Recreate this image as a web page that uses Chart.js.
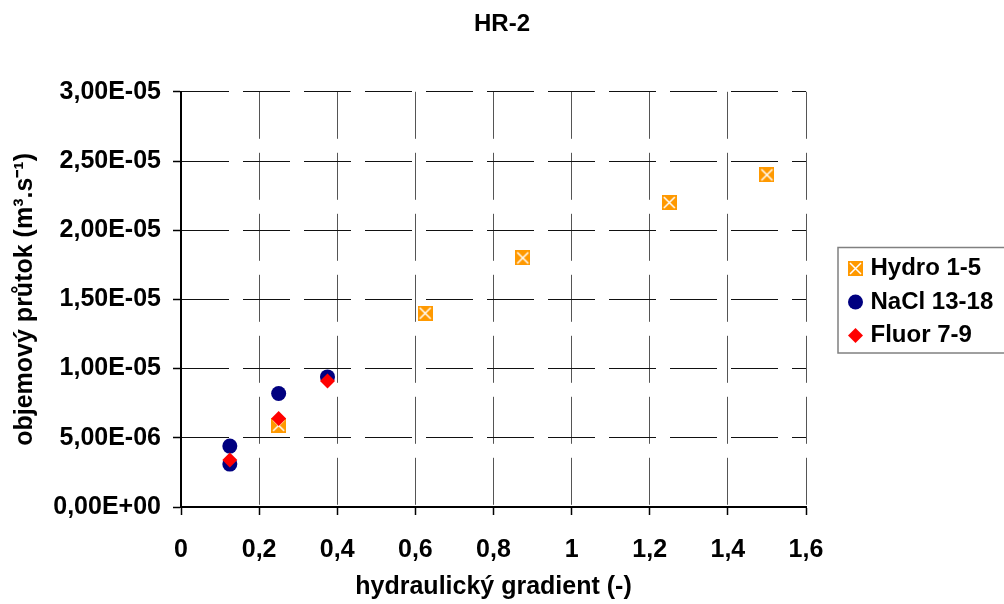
<!DOCTYPE html>
<html>
<head>
<meta charset="utf-8">
<script src="https://cdn.jsdelivr.net/npm/chart.js@4/dist/chart.umd.min.js"></script>
<style>
  body { margin: 0; background: #fff; }
  #chart { display: block; }
</style>
</head>
<body>
<canvas id="chart" width="1004" height="604"></canvas>
<script>
// data
const hydroX = [0.25, 0.625, 0.875, 1.25, 1.5];
const hydroY = [5.9e-6, 1.4e-5, 1.8e-5, 2.2e-5, 2.4e-5];
const naclX = [0.125, 0.125, 0.25, 0.375];
const naclY = [4.4e-6, 3.1e-6, 8.2e-6, 9.4e-6];
const fluorX = [0.125, 0.25, 0.375];
const fluorY = [3.4e-6, 6.4e-6, 9.1e-6];

const seriesNames = ["Hydro 1-5", "NaCl 13-18", "Fluor 7-9"];

const FONT = "'Liberation Sans', Arial, sans-serif";

function pts(xs, ys) {
  return xs.map((x, i) => ({ x, y: ys[i] }));
}

// orange square with white cross, like the Excel marker
function crossBox() {
  const c = document.createElement("canvas");
  c.width = 15; c.height = 15;
  const g = c.getContext("2d");
  g.fillStyle = "#FF9900";
  g.fillRect(0, 0, 15, 15);
  g.strokeStyle = "#fff";
  g.lineWidth = 1.5;
  g.beginPath();
  g.moveTo(2, 2); g.lineTo(13, 13);
  g.moveTo(13, 2); g.lineTo(2, 13);
  g.stroke();
  return c;
}

function fmtSci(v) {
  if (v === 0) return "0,00E+00";
  const [m, e] = v.toExponential(2).split("e");
  const sign = e[0] === "-" ? "-" : "+";
  const n = e.replace(/[+-]/, "").padStart(2, "0");
  return m.replace(".", ",") + "E" + sign + n;
}

const LEGEND_W = 198;
const LEGEND_PAD = 9.5;
const LEGEND_ITEM_X = 852.5;

const legendFix = {
  id: "legendFix",
  beforeLayout(chart) {
    const lg = chart.legend;
    if (lg && !lg._fixed) {
      const orig = lg.fit.bind(lg);
      lg.fit = function () { orig(); this.width = LEGEND_W; };
      lg._fixed = true;
    }
  },
  afterLayout(chart) {
    const lg = chart.legend;
    lg.left = LEGEND_ITEM_X - LEGEND_PAD;
  },
  afterDraw(chart) {
    const hb = chart.legend.legendHitBoxes;
    if (!hb || !hb.length) return;
    const ctx = chart.ctx;
    const first = hb[0], last = hb[hb.length - 1];
    const left = first.left - 14.5;
    const top = first.top - 9;
    const bottom = last.top + 12 + 17.5;
    const right = chart.width + 10;
    ctx.save();
    ctx.strokeStyle = "#808080";
    ctx.lineWidth = 1.5;
    ctx.strokeRect(left, top, right - left, bottom - top);
    ctx.restore();
  }
};

new Chart(document.getElementById("chart"), {
  type: "scatter",
  data: {
    datasets: [
      {
        label: seriesNames[0],
        data: pts(hydroX, hydroY),
        pointStyle: crossBox(),
        pointRadius: 7.5,
        order: 3
      },
      {
        label: seriesNames[1],
        data: pts(naclX, naclY),
        pointStyle: "circle",
        pointRadius: 7.5,
        backgroundColor: "#000080",
        borderColor: "#000080",
        borderWidth: 0,
        order: 2
      },
      {
        label: seriesNames[2],
        data: pts(fluorX, fluorY),
        pointStyle: "rectRot",
        pointRadius: 7.5,
        backgroundColor: "#FF0000",
        borderColor: "#FF0000",
        borderWidth: 0,
        order: 1
      }
    ]
  },
  options: {
    responsive: false,
    animation: false,
    layout: { padding: 0 },
    plugins: {
      tooltip: { enabled: false },
      title: {
        display: true,
        text: "HR-2",
        color: "#000",
        font: { family: FONT, size: 24, weight: "bold" },
        padding: { top: 10, bottom: 53 }
      },
      legend: {
        position: "right",
        reverse: true,
        labels: {
          usePointStyle: true,
          boxWidth: 6,
          boxHeight: 10.6,
          padding: LEGEND_PAD,
          color: "#000",
          font: { family: FONT, size: 24, weight: "bold" }
        }
      }
    },
    scales: {
      x: {
        type: "linear",
        min: 0,
        max: 1.6,
        afterFit(s) { s.height = 97; },
        ticks: {
          stepSize: 0.2,
          color: "#000",
          padding: 20,
          maxRotation: 0,
          font: { family: FONT, size: 25, weight: "bold" },
          callback: v => String(+v.toFixed(1)).replace(".", ",")
        },
        grid: {
          color: "#555",
          lineWidth: 1,
          tickLength: 8,
          tickColor: "#000",
          tickWidth: 1.5
        },
        border: { display: true, color: "#000", width: 2, dash: [47, 14] },
        title: {
          display: true,
          text: "hydraulický gradient (-)",
          color: "#000",
          font: { family: FONT, size: 25, weight: "bold" },
          padding: { top: 0, bottom: 2 }
        }
      },
      y: {
        min: 0,
        max: 3e-5,
        afterFit(s) { s.width = 181; },
        ticks: {
          stepSize: 5e-6,
          color: "#000",
          padding: 12,
          font: { family: FONT, size: 25, weight: "bold" },
          callback: v => fmtSci(v)
        },
        grid: {
          color: "#111",
          lineWidth: 1,
          tickLength: 8,
          tickColor: "#000",
          tickWidth: 1.5
        },
        border: { display: true, color: "#000", width: 2, dash: [47, 14] },
        title: {
          display: true,
          text: "objemový průtok (m³.s⁻¹)",
          color: "#000",
          font: { family: FONT, size: 25, weight: "bold" },
          padding: { top: 10, bottom: 0 }
        }
      }
    }
  },
  plugins: [legendFix]
});
</script>
</body>
</html>
